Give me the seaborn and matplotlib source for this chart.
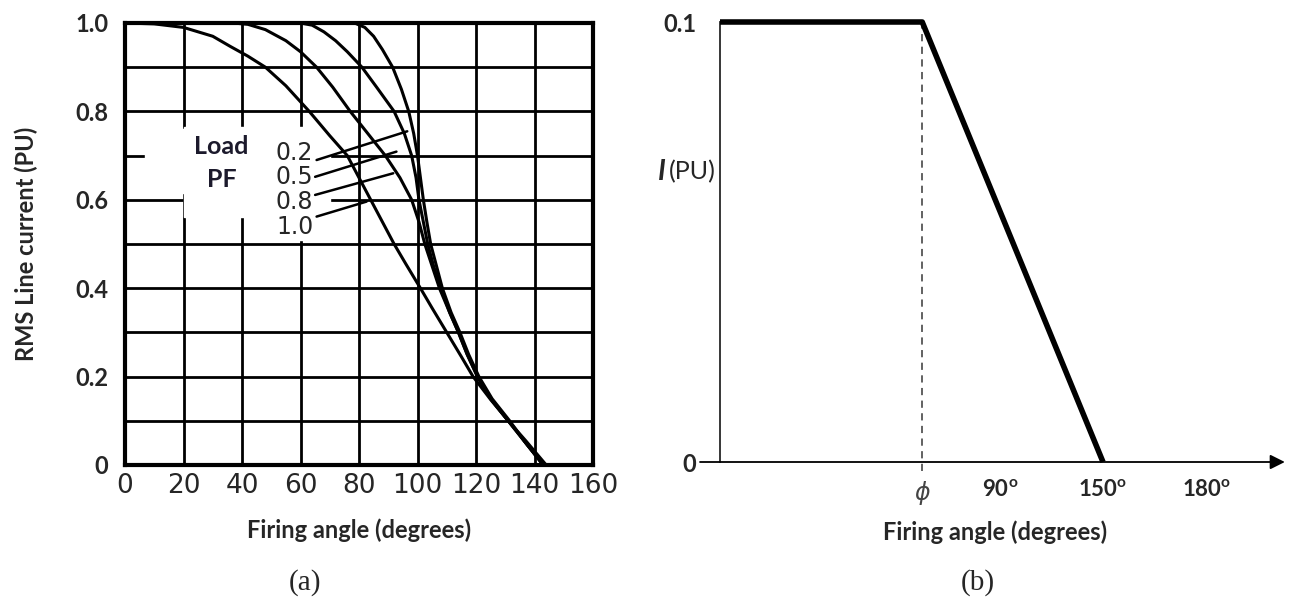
import numpy as np
import pandas as pd
import seaborn as sns
import matplotlib.pyplot as plt
from matplotlib.patches import Rectangle

# ---------------- panel (a): RMS line current vs firing angle
pf_labels = ['0.2', '0.5', '0.8', '1.0']

angle_pf02 = [0, 78.5, 82, 85, 88, 91.5, 94.5, 97, 98.7, 100, 101, 102, 103.2, 104.5,
              106.5, 108.5, 111.5, 114.5, 117.5, 121, 125.5, 131.5, 137, 143]
curr_pf02 = [1.0, 1.0, 0.99, 0.97, 0.94, 0.9, 0.85, 0.8, 0.75, 0.7, 0.65, 0.6, 0.55, 0.5,
             0.45, 0.4, 0.345, 0.3, 0.25, 0.2, 0.15, 0.1, 0.05, 0.0]

angle_pf05 = [0, 60, 64, 68, 72, 76, 81, 86, 92, 95.5, 98, 99.5, 100.5, 102, 103.5,
              105.5, 108, 111, 114, 117, 120.5, 125, 131, 137, 143]
curr_pf05 = [1.0, 1.0, 0.995, 0.98, 0.96, 0.935, 0.9, 0.855, 0.8, 0.75, 0.7, 0.65, 0.6,
             0.55, 0.5, 0.45, 0.4, 0.345, 0.3, 0.25, 0.2, 0.15, 0.1, 0.05, 0.0]

angle_pf08 = [0, 37, 42, 48, 55, 60, 65.5, 71, 77, 83, 89, 94, 98, 100.5, 102.5, 105,
              107.5, 111, 114, 117, 120.5, 125, 131, 137, 143]
curr_pf08 = [1.0, 1.0, 0.997, 0.985, 0.96, 0.935, 0.9, 0.855, 0.8, 0.75, 0.7, 0.65, 0.6,
             0.55, 0.5, 0.45, 0.4, 0.345, 0.3, 0.25, 0.2, 0.15, 0.1, 0.05, 0.0]

angle_pf10 = [0, 10, 20, 30, 36, 42, 48, 55, 63, 70, 76, 80, 84, 88, 92, 96, 101, 105,
              110, 115, 119, 125, 131, 137, 144]
curr_pf10 = [1.0, 0.998, 0.99, 0.97, 0.947, 0.925, 0.9, 0.858, 0.8, 0.745, 0.7, 0.65, 0.6,
             0.55, 0.5, 0.455, 0.4, 0.355, 0.3, 0.245, 0.2, 0.148, 0.1, 0.055, 0.0]

a_xticks = [0, 20, 40, 60, 80, 100, 120, 140, 160]
a_yticks = [0, 0.2, 0.4, 0.6, 0.8, 1.0]
a_ytick_labels = ['0', '0.2', '0.4', '0.6', '0.8', '1.0']

# label positions and leader line ends (degrees, PU)
pf_text_y = [0.706, 0.652, 0.595, 0.538]
pf_leader_start = [(65.5, 0.690), (65.0, 0.652), (65.0, 0.611), (65.5, 0.562)]
pf_leader_end = [(96.5, 0.755), (92.8, 0.709), (91.7, 0.660), (82.6, 0.596)]

# ---------------- panel (b): idealised characteristic
b_angle = [0, 65, 150]
b_current = [0.1, 0.1, 0.0]
phi_deg = 65
b_tick_deg = [phi_deg, 90, 150, 180]
b_tick_labels = [r'$\phi$', r'90$^{\mathregular{o}}$', r'150$^{\mathregular{o}}$',
                 r'180$^{\mathregular{o}}$']
# the sketch is not to scale: degrees -> drawing position
knot_deg = [-10, 0, 90, 150, 180, 204]
knot_pos = [-20, 0, 280, 383, 487, 570]

frames = []
for lab, a, c in zip(pf_labels, [angle_pf02, angle_pf05, angle_pf08, angle_pf10],
                     [curr_pf02, curr_pf05, curr_pf08, curr_pf10]):
    frames.append(pd.DataFrame({'angle': a, 'current': c, 'pf': lab}))
df_a = pd.concat(frames, ignore_index=True)
df_b = pd.DataFrame({'angle': b_angle, 'current': b_current})

sns.set_style('white')
plt.rcParams['font.family'] = ['Lato', 'DejaVu Sans']
plt.rcParams['mathtext.fontset'] = 'dejavusans'

W, H = 1298, 608
fig = plt.figure(figsize=(W / 100, H / 100), dpi=100)

def px_box(x0, y0, x1, y1):
    return [x0 / W, 1 - y1 / H, (x1 - x0) / W, (y1 - y0) / H]

# ---------- (a)
ax = fig.add_axes(px_box(125, 23, 593, 465))
ax.add_patch(Rectangle((7, 0.615), 55, 0.145, color='white', zorder=2))
ax.add_patch(Rectangle((20, 0.56), 50, 0.205, color='white', zorder=2))
ax.add_patch(Rectangle((50, 0.51), 20, 0.06, color='white', zorder=2))
sns.lineplot(data=df_a, x='angle', y='current', hue='pf', units='pf', estimator=None,
             sort=False, palette={p: 'black' for p in pf_labels}, linewidth=2.2,
             legend=False, ax=ax, zorder=3)
ax.set_xlim(0, 160)
ax.set_ylim(0, 1.0)
ax.set_xticks(a_xticks)
ax.set_xticklabels([str(t) for t in a_xticks], family=['Liberation Sans Narrow', 'DejaVu Sans'],
                   fontsize=19)
ax.set_yticks(a_yticks)
ax.set_yticklabels(a_ytick_labels, fontweight='bold', fontsize=17)
ax.set_yticks(np.arange(1, 10) / 10, minor=True)
ax.tick_params(which='both', length=0)
ax.tick_params(axis='x', pad=6)
ax.tick_params(axis='y', pad=12)
ax.grid(True, which='both', color='black', linewidth=2.0, zorder=1)
ax.set_axisbelow(True)
for s in ax.spines.values():
    s.set_linewidth(3.0)
    s.set_color('black')
ax.set_xlabel('Firing angle (degrees)', fontweight='bold', fontsize=17, labelpad=14)
ax.set_ylabel('RMS Line current (PU)', fontweight='bold', fontsize=17, labelpad=27)

ax.text(33, 0.72, 'Load', fontweight='bold', fontsize=18, color='#1c1a2c',
        ha='center', va='center', zorder=4)
ax.text(33, 0.645, 'PF', fontweight='bold', fontsize=18, color='#1c1a2c',
        ha='center', va='center', zorder=4)
for lab, ty, st, en in zip(pf_labels, pf_text_y, pf_leader_start, pf_leader_end):
    ax.text(58, ty, lab, fontsize=17, ha='center', va='center', zorder=4,
            family=['Liberation Sans Narrow', 'DejaVu Sans'])
    ax.annotate('', xy=en, xytext=st,
                arrowprops=dict(arrowstyle='-', color='black', lw=1.8,
                                shrinkA=0, shrinkB=0), zorder=4)

# ---------- (b)
bx = fig.add_axes(px_box(700, 22, 1290, 462))
bx.set_xscale('function', functions=(lambda d: np.interp(d, knot_deg, knot_pos),
                                     lambda p: np.interp(p, knot_pos, knot_deg)))
sns.lineplot(data=df_b, x='angle', y='current', estimator=None, sort=False,
             color='black', linewidth=4.0, ax=bx, zorder=3)
for ln in bx.lines:
    ln.set_clip_on(False)
    ln.set_solid_capstyle('butt')
bx.set_xlim(knot_deg[0], knot_deg[-1])
bx.set_ylim(0, 0.1)
bx.axvline(phi_deg, ymin=-0.02, ymax=1, color='#555555', linestyle=(0, (4, 3)),
           linewidth=1.3, clip_on=False, zorder=2)
for side in ['top', 'right', 'bottom']:
    bx.spines[side].set_visible(False)
bx.spines['left'].set_position(('data', 0))
bx.spines['left'].set_linewidth(1.3)
bx.annotate('', xy=(202.5, 0), xytext=(knot_deg[0], 0),
            arrowprops=dict(arrowstyle='-|>', color='black', lw=1.3,
                            mutation_scale=22, shrinkA=0, shrinkB=0),
            annotation_clip=False)
bx.set_xticks(b_tick_deg)
bx.set_xticklabels(b_tick_labels, fontweight='bold', fontsize=16)
bx.tick_params(axis='x', direction='inout', length=16, width=1.3, pad=4)
xt = bx.xaxis.get_major_ticks()[0]
xt.tick1line.set_visible(False)
xt.label1.set_color('#444444')
xt.label1.set_fontsize(17)
bx.set_yticks([0, 0.1])
bx.set_yticklabels(['0', '0.1'], fontweight='bold', fontsize=17)
bx.tick_params(axis='y', length=0, pad=17)
bx.set_xlabel('Firing angle (degrees)', fontweight='bold', fontsize=17, labelpad=10)
bx.set_ylabel('')

fig.text(666 / W, 1 - 172 / H, 'I', fontweight='bold', style='italic', fontsize=20,
         ha='right', va='center')
fig.text(716 / W, 1 - 172 / H, '(PU)', fontsize=18, ha='right', va='center')

fig.text(305 / W, 1 - 583 / H, '(a)', family=['Liberation Serif', 'DejaVu Serif'],
         fontsize=21, ha='center', va='center')
fig.text(978 / W, 1 - 583 / H, '(b)', family=['Liberation Serif', 'DejaVu Serif'],
         fontsize=21, ha='center', va='center')

fig.savefig('out.png', dpi=100)
